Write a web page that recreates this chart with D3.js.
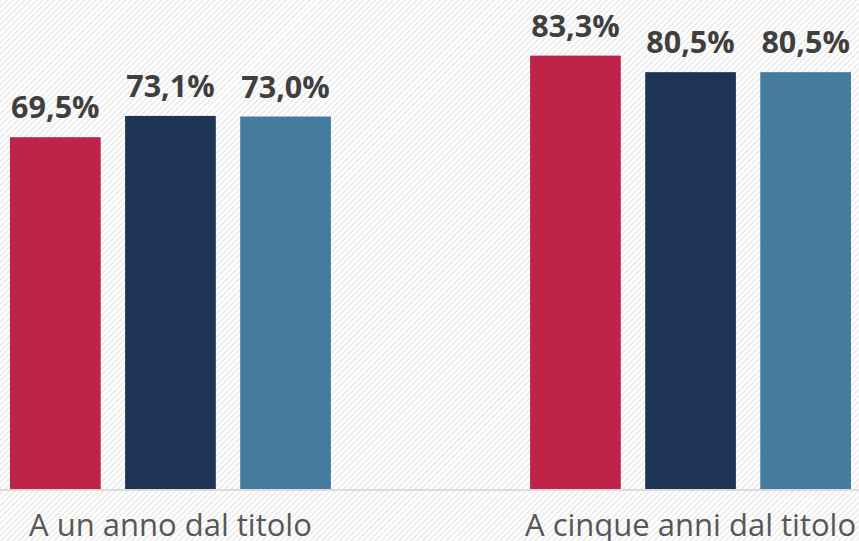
<!DOCTYPE html>
<html>
<head>
<meta charset="utf-8">
<script src="https://cdn.jsdelivr.net/npm/d3@7"></script>
<style>
  html, body { margin: 0; padding: 0; background: #fff; overflow: hidden; }
  svg { display: block; }
</style>
</head>
<body>
<svg id="chart" width="859" height="541"></svg>
<script>
// Tasso di occupazione dei laureati, per distanza dal titolo
const categories = ["A un anno dal titolo", "A cinque anni dal titolo"];
const seriesKeys = ["s1", "s2", "s3"];
const seriesColors = ["#bd2448", "#1d3455", "#457b9c"];
const valuesS1 = [69.5, 83.3];
const valuesS2 = [73.1, 80.5];
const valuesS3 = [73.0, 80.5];
const seriesValues = [valuesS1, valuesS2, valuesS3];
const fmt = v => v.toFixed(1).replace(".", ",") + "%";

const W = 859, H = 541;
const svg = d3.select("#chart");

// diagonal hatched background
const defs = svg.append("defs");
const pat = defs.append("pattern")
  .attr("id", "hatch")
  .attr("patternUnits", "userSpaceOnUse")
  .attr("width", 4.2).attr("height", 4.2)
  .attr("patternTransform", "rotate(45)");
pat.append("rect").attr("width", 4.2).attr("height", 4.2).attr("fill", "#ffffff");
pat.append("rect").attr("width", 1.6).attr("height", 4.2).attr("fill", "#ebebeb");
svg.append("rect").attr("width", W).attr("height", H).attr("fill", "url(#hatch)");

const baseY = 489;
const x0 = d3.scaleBand().domain(categories).range([10, 851]).paddingInner(0.383).paddingOuter(0);
const x1 = d3.scaleBand().domain(seriesKeys).range([0, x0.bandwidth()]).paddingInner(0.212).paddingOuter(0);
const y = d3.scaleLinear().domain([10, 90]).range([baseY, 16]);

const rows = [];
categories.forEach((c, i) => {
  seriesKeys.forEach((k, j) => {
    rows.push({ cat: c, key: k, value: seriesValues[j][i], color: seriesColors[j] });
  });
});

// baseline
svg.append("line")
  .attr("x1", 0).attr("x2", W)
  .attr("y1", baseY + 1).attr("y2", baseY + 1)
  .attr("stroke", "#dcdcdc").attr("stroke-width", 2);

svg.append("g").selectAll("rect").data(rows).join("rect")
  .attr("x", d => x0(d.cat) + x1(d.key))
  .attr("width", x1.bandwidth())
  .attr("y", d => y(d.value))
  .attr("height", d => baseY - y(d.value))
  .attr("fill", d => d.color);

svg.append("g").selectAll("text").data(rows).join("text")
  .attr("x", d => x0(d.cat) + x1(d.key) + x1.bandwidth() / 2)
  .attr("y", d => y(d.value) - 19)
  .attr("text-anchor", "middle")
  .attr("font-family", "'Open Sans', sans-serif")
  .attr("font-weight", 700)
  .attr("font-size", 30.5)
  .attr("fill", "#3f3f3f")
  .text(d => fmt(d.value));

// category axis labels
svg.append("g").selectAll("text").data(categories).join("text")
  .attr("x", d => x0(d) + x0.bandwidth() / 2)
  .attr("y", 536)
  .attr("text-anchor", "middle")
  .attr("font-family", "'Open Sans', sans-serif")
  .attr("font-size", 31)
  .attr("fill", "#575757")
  .text(d => d);
</script>
</body>
</html>
